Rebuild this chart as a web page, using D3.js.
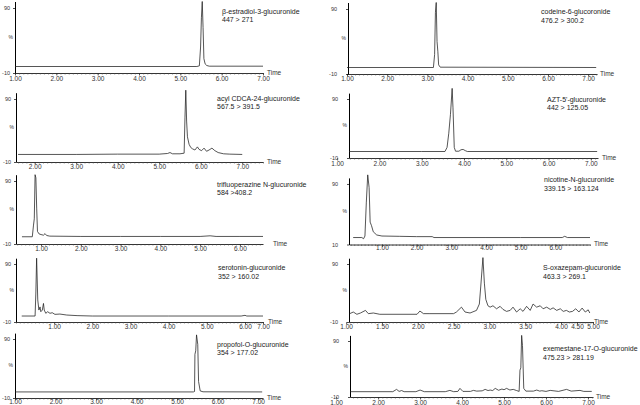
<!DOCTYPE html>
<html><head><meta charset="utf-8">
<script src="https://cdn.jsdelivr.net/npm/d3@7"></script>
<style>
html,body{margin:0;padding:0;background:#fff;}
svg{display:block;font-family:"Liberation Sans",Arial,sans-serif;}
</style></head><body>
<svg id="chart" width="640" height="405"></svg>
<script>
// ---------- DATA ----------
const compoundNames = ["β-estradiol-3-glucuronide","codeine-6-glucoronide","acyl CDCA-24-glucuronide","AZT-5'-glucuronide","trifluoperazine N-glucuronide","nicotine-N-glucuronide","serotonin-glucuronide","S-oxazepam-glucuronide","propofol-O-glucuronide","exemestane-17-O-glucuronide"];
const transitions = ["447 > 271","476.2 > 300.2","567.5 > 391.5","442 > 125.05","584 >408.2","339.15 > 163.124","352 > 160.02","463.3 > 269.1","354 > 177.02","475.23 > 281.19"];
const yTickValues = [-10, 90];
const yLabelsStd = ["-10", "90"];
const yLabelsNic = ["10", "90"];
const ticks1to7 = [1,2,3,4,5,6,7];
const ticks2to7 = [2,3,4,5,6,7];
const ticks1to6 = [1,2,3,4,5,6];
const ticksOxa = [1,1.5,2,2.5,3,3.5,4,4.5,5];

const estradiolT = [1.0,5.40,5.46,5.49,5.51,5.53,5.55,5.57,5.60,5.64,5.70,7.0];
const estradiolV = [0,0,1,30,75,100,60,12,4,1.5,0.5,0.5];

const codeineT = [1.0,3.15,3.18,3.20,3.22,3.24,3.26,3.28,3.32,7.2];
const codeineV = [0,0,20,85,100,40,25,4,0.5,0];

const cdcaT = [1.6,3.0,4.0,5.0,5.2,5.26,5.32,5.5,5.6,5.62,5.64,5.66,5.68,5.72,5.76,5.8,5.86,5.92,5.96,6.02,6.08,6.14,6.2,6.27,6.34,6.42,6.55,6.7,7.0];
const cdcaV = [2,2,2.5,2.5,3.5,5,3,3,4,60,104,55,30,18,13,11,9,14,10,8,12,7,9,12,8,5,3,2.5,2];

const aztT = [1.28,3.0,3.55,3.60,3.64,3.68,3.72,3.74,3.77,3.80,3.88,3.93,3.98,4.03,4.08,7.15];
const aztV = [1,1,1,8,32,64,108,75,8,1.5,1.5,4,4.5,2.5,1,1];

const trifluT = [0.52,0.78,0.81,0.83,0.85,0.87,0.89,0.91,0.95,1.0,1.06,1.1,1.14,1.22,2.0,3.0,4.0,5.0,5.25,5.4,6.0,6.58];
const trifluV = [1.5,1.5,20,30,100,95,47,10,6,5,4,6.5,3.5,2.5,2,2,2,2,3,2,2,2];

const nicotineT = [0.17,0.42,0.47,0.51,0.55,0.59,0.63,0.66,0.70,0.75,0.85,1.0,1.5,2.0,2.45,2.5,4.0,5.0,6.2,6.27,6.35,7.0];
const nicotineV = [1.5,1.5,-0.5,4,60,105,84,27,21,11,5.7,4,3.5,3,3,1.5,1.5,1.5,1.5,3.5,1.5,1.5];

const serotoninT = [0.15,0.50,0.52,0.54,0.57,0.60,0.63,0.65,0.69,0.72,0.74,0.78,0.83,0.89,0.95,1.02,1.15,1.33,1.6,2.0,4.0,5.9,6.0,6.1,7.0];
const serotoninV = [0.3,0.3,40,100,28,10.6,16,7.7,10.6,22,10.6,5,7.7,5,6,3.2,3.7,2,1,0.3,0.3,0.3,1.5,0.3,0.3];

const oxazepamT = [1.05,1.10,1.15,1.20,1.27,1.31,1.38,1.47,1.99,2.03,2.08,2.17,2.50,2.54,2.61,2.66,2.73,2.82,2.86,2.88,2.91,2.93,2.95,2.98,3.01,3.05,3.10,3.15,3.19,3.24,3.29,3.33,3.38,3.43,3.47,3.52,3.57,3.61,3.66,3.71,3.75,3.80,3.85,3.89,3.94,3.99,4.07,4.17,4.26,4.36,4.46,4.56,4.66,4.76,4.85,4.90];
const oxazepamV = [4.4,7.2,3.3,5.5,10,4.4,5.5,3.3,3.3,8.9,4.4,4.4,4.4,7.2,15.6,7.2,5.5,10,21,52,101,57,29,18,15.6,18,12.8,17,11.7,8.3,10,15.6,7.2,12.8,8.3,17,10,21,15.6,18,12.8,15.6,11.7,14.4,10,12.8,8.3,10,7.2,8.3,12.8,7.2,14,7.2,11,5.5];

const propofolT = [1.0,5.40,5.43,5.44,5.46,5.48,5.51,5.53,5.57,5.64,7.1];
const propofolV = [0.3,0.3,1,64,70,97,81,18,2,0.5,0.3];

const exemestaneT = [1.33,2.35,2.44,2.50,2.56,2.62,2.9,3.0,3.1,3.6,3.71,3.8,3.9,3.95,4.02,4.2,4.27,4.35,4.48,4.55,4.62,4.67,4.73,4.79,4.87,4.95,5.0,5.06,5.14,5.22,5.3,5.36,5.38,5.40,5.42,5.44,5.47,5.52,5.7,5.78,5.85,5.9,6.0,6.1,6.3,6.49,6.6,6.81,6.9,7.09];
const exemestaneV = [-0.5,-0.5,3.6,0,1.5,-0.5,-0.5,2.4,-0.5,-0.5,1.8,-0.5,0,5.4,0,0,1.8,0.5,1,3.6,1.5,2.4,1.5,5.4,2,4.2,3,5.4,2.5,3.6,1.5,0,38,42,100,82,5.4,0.5,0.5,2.4,0.5,1.2,0,1.8,0,3.6,0.5,1.8,0,0];

const seriesT = [estradiolT,codeineT,cdcaT,aztT,trifluT,nicotineT,serotoninT,oxazepamT,propofolT,exemestaneT];
const seriesV = [estradiolV,codeineV,cdcaV,aztV,trifluV,nicotineV,serotoninV,oxazepamV,propofolV,exemestaneV];
const tickSets = [ticks1to7,ticks1to7,ticks2to7,ticks1to7,ticks1to6,ticks1to6,ticks1to7,ticksOxa,ticks1to7,ticks1to7];
const yLabelSets = [yLabelsStd,yLabelsStd,yLabelsStd,yLabelsStd,yLabelsStd,yLabelsNic,yLabelsStd,yLabelsStd,yLabelsStd,yLabelsStd];

// ---------- LAYOUT ----------
const layout = [
  {ax:15,  xr:[15,263],      xd:[1,7],       yb:73,    yt:1.5,   ypad:3, tp:1.2,  lx:222, ly:[12,20],   tx:267},
  {ax:348, xr:[347,597],     xd:[1,7.22],    yb:74,    yt:2.5,   ypad:9, tp:0.2,  lx:541, ly:[12,21],   tx:600},
  {ax:16,  xr:[16,263],      xd:[1.55,7.5],  yb:162,   yt:92.7,  ypad:3, tp:0.2,  lx:217, ly:[99,107],  tx:267},
  {ax:349, xr:[349,598],     xd:[1.28,7.17], yb:158,   yt:93.1,  ypad:9, tp:1.2,  lx:547, ly:[100,108], tx:602},
  {ax:16,  xr:[16,263],      xd:[0.37,6.58], yb:244,   yt:174.7, ypad:3, tp:0.2,  lx:217, ly:[185,193], tx:273},
  {ax:349, xr:[349,590],     xd:[0.05,7.0],  yb:244.5, yt:177.9, ypad:9, tp:-1.3, lx:544, ly:[180,189], tx:594},
  {ax:16,  xr:[16,245,263],  xd:[0,6,7],     yb:322,   yt:258.2, ypad:3, tp:0.2,  lx:218, ly:[268,277], tx:268},
  {ax:349, xr:[349,561,593], xd:[1.04,4,5],  yb:322,   yt:258.2, ypad:9, tp:0.2,  lx:543, ly:[268,277], tx:594},
  {ax:15,  xr:[15,263],      xd:[1,7.12],    yb:398,   yt:333.1, ypad:3, tp:-1.3, lx:217, ly:[345,353], tx:267},
  {ax:350, xr:[350,593],     xd:[1.33,7.12], yb:397,   yt:335.4, ypad:9, tp:1.0,  lx:543, ly:[349,358], tx:596}
];

// ---------- DRAW ----------
const svg = d3.select("#chart");
const fmt = d3.format(".2f");
const FONT = "'Liberation Sans', Arial, sans-serif";

layout.forEach((L, i) => {
  const g = svg.append("g");
  const x = d3.scaleLinear().domain(L.xd).range(L.xr);
  const y = d3.scaleLinear().domain([-10, 100]).range([L.yb, L.yt]);
  const pts = seriesT[i].map((t, k) => [t, seriesV[i][k]]);

  // minor ticks + axis line
  const ticks = tickSets[i];
  const step = ticks[1] - ticks[0];
  const mstep = step / 10;
  const dom = x.domain();
  const lo = dom[0], hi = dom[dom.length - 1];
  const minor = d3.range(Math.ceil(lo / mstep - 1e-6), Math.floor(hi / mstep + 1e-6) + 1).map(k => +(k * mstep).toFixed(4));
  g.append("g").attr("transform", `translate(0,${L.yb})`)
    .call(d3.axisBottom(x).tickValues(minor).tickSize(1.5).tickSizeOuter(0).tickFormat(""))
    .call(s => s.select(".domain").attr("stroke", "#000").attr("stroke-width", 0.8))
    .call(s => s.selectAll(".tick line").attr("stroke", "#444").attr("stroke-width", 0.6));

  // major ticks + labels
  const xa = g.append("g").attr("transform", `translate(0,${L.yb})`)
    .call(d3.axisBottom(x).tickValues(ticks).tickSize(2.5).tickSizeOuter(0).tickPadding(L.tp).tickFormat(fmt));
  xa.attr("font-size", 6.5).attr("font-family", FONT);
  xa.select(".domain").remove();
  xa.selectAll(".tick line").attr("stroke", "#222").attr("stroke-width", 0.7);
  xa.selectAll(".tick text").attr("fill", "#333");

  // y axis
  const ya = g.append("g").attr("transform", `translate(${L.ax},0)`)
    .call(d3.axisLeft(y).tickValues(yTickValues).tickSize(2).tickSizeOuter(0).tickPadding(L.ypad)
      .tickFormat((d, k) => yLabelSets[i][k]));
  ya.attr("font-size", 5.5).attr("font-family", FONT);
  ya.select(".domain").attr("stroke", "#000").attr("stroke-width", 1);
  ya.selectAll(".tick line").attr("stroke", "#000").attr("stroke-width", 0.7);
  ya.selectAll(".tick text").attr("fill", "#333");

  g.append("text").attr("x", L.ax - 2).attr("y", y(45)).attr("dy", "0.35em")
    .attr("text-anchor", "end").attr("font-size", 5).attr("font-family", FONT).attr("fill", "#333").text("%");

  // trace
  g.append("path").datum(pts)
    .attr("fill", "none").attr("stroke", "#1e1e1e").attr("stroke-width", 0.75).attr("stroke-linejoin", "round")
    .attr("d", d3.line().x(d => x(d[0])).y(d => y(d[1])));

  // Time label
  g.append("text").attr("x", L.tx).attr("y", L.yb - 0.5).attr("dy", "0.35em")
    .attr("font-size", 6.5).attr("font-family", FONT).attr("fill", "#333").text("Time");

  // compound label
  [compoundNames[i], transitions[i]].forEach((txt, k) => {
    g.append("text").attr("x", L.lx).attr("y", L.ly[k]).attr("dy", "0.35em")
      .attr("font-size", 7).attr("font-family", FONT).attr("fill", "#222").text(txt);
  });
});
</script>
</body></html>
